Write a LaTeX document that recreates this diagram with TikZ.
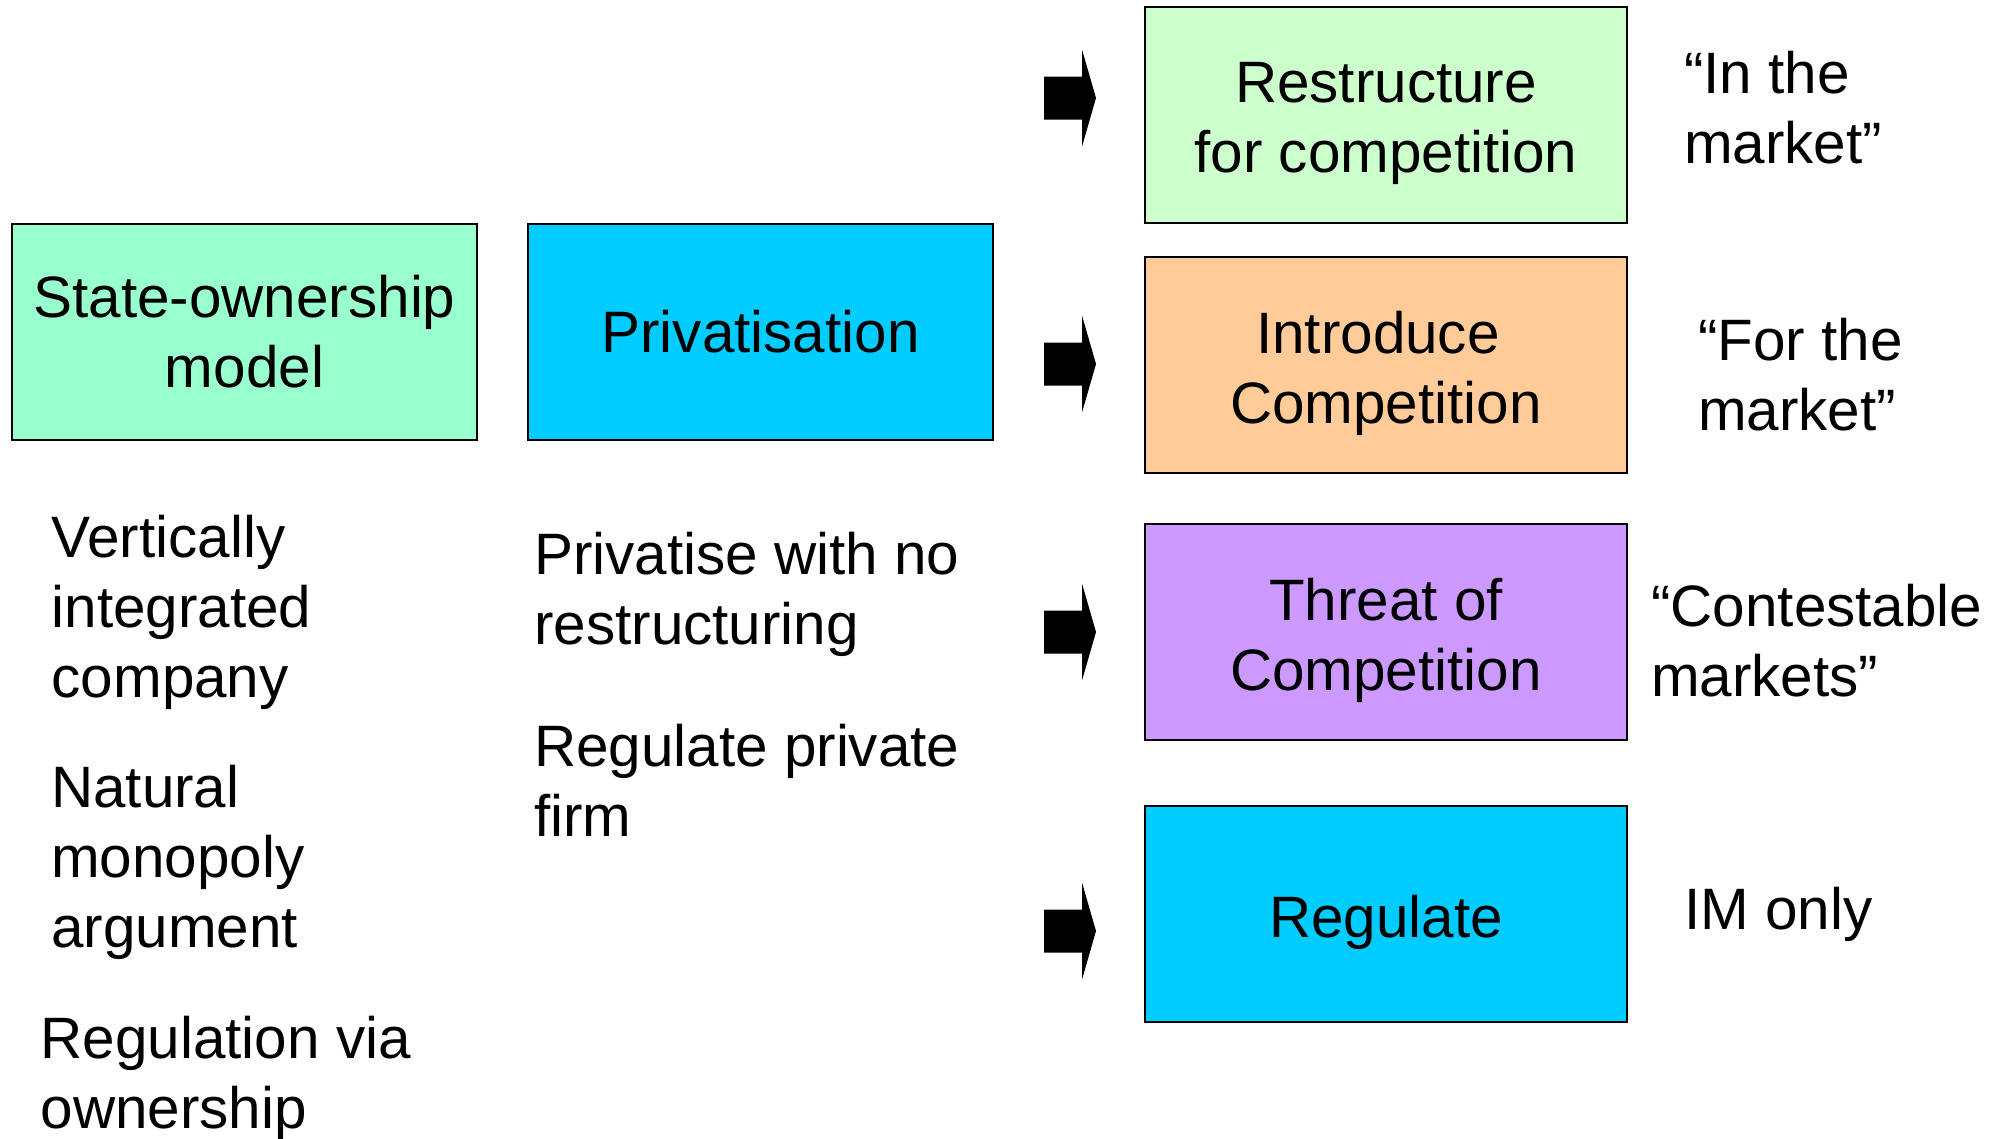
\documentclass[tikz,border=0pt]{standalone}
\usepackage{fontspec}
\setmainfont{Liberation Sans}
\definecolor{cMint}{HTML}{99FFCC}
\definecolor{cCyan}{HTML}{00CCFF}
\definecolor{cPale}{HTML}{CCFFCC}
\definecolor{cPeach}{HTML}{FFCC99}
\definecolor{cLilac}{HTML}{CC99FF}
\begin{document}
\begin{tikzpicture}[x=1pt,y=-1pt,
  txt/.style={font=\fontsize{58.4}{70}\selectfont, inner sep=0pt, text=black},
  box/.style={txt, draw=black, line width=2pt, align=center},
  leftbox/.style={box, minimum width=465pt, minimum height=216pt},
  rightbox/.style={box, minimum width=482pt, minimum height=216pt},
  boxtext/.style={txt, align=center},
  note/.style={txt, anchor=north west, align=left},
  blockarrow/.pic={\fill[black] (-26,-21.5) -- (12,-21.5) -- (12,-48.5) -- (26,0)
      -- (12,48.5) -- (12,21.5) -- (-26,21.5) -- cycle;}
]
\useasboundingbox (0,0) rectangle (2004,1138);

% the two starting models
\node[leftbox, fill=cMint] (state) at (244.5,332) {State-ownership\\model};
\node[leftbox, fill=cCyan] (priv) at (760.5,332) {Privatisation};

% the four options, text set a little below the box centre
\node[rightbox, fill=cPale] (restr) at (1386,115) {};
\node[boxtext] (restrT) at ([yshift=-8.5pt]restr.center) {Restructure\\for competition};
\node[rightbox, fill=cPeach] (intro) at (1386,365) {};
\node[boxtext] (introT) at ([yshift=-8.5pt]intro.center) {Introduce\kern0.278em\\Competition};
\node[rightbox, fill=cLilac] (threat) at (1386,631.5) {};
\node[boxtext] (threatT) at ([yshift=-8.5pt]threat.center) {Threat of\\Competition};
\node[rightbox, fill=cCyan] (reg) at (1386,913.5) {};
\node[boxtext] (regT) at ([yshift=-8.5pt]reg.center) {Regulate};

% block arrows pointing at the option boxes
\pic (arrA) at (1070,98) {blockarrow};
\pic (arrB) at (1070,364) {blockarrow};
\pic (arrC) at (1070,632) {blockarrow};
\pic (arrD) at (1070,931) {blockarrow};

% notes under the first two boxes
\node[note] (vert) at (51.5,508) {\strut Vertically\\integrated\\company};
\node[note] (natmon) at (51,758) {\strut Natural\\monopoly\\argument};
\node[note] (regown) at (40.5,1009) {\strut Regulation via\\ownership};
\node[note] (nores) at (534,525) {\strut Privatise with no\\restructuring};
\node[note] (regpriv) at (534,717) {\strut Regulate private\\firm};

% labels beside the option boxes
\node[note] (inmkt) at (1684,44) {\strut “In the\\market”};
\node[note] (formkt) at (1698,311) {\strut “For the\\market”};
\node[note] (contest) at (1651,577) {\strut “Contestable\\markets”};
\node[note] (imonly) at (1684,880) {\strut IM only};
\end{tikzpicture}
\end{document}
